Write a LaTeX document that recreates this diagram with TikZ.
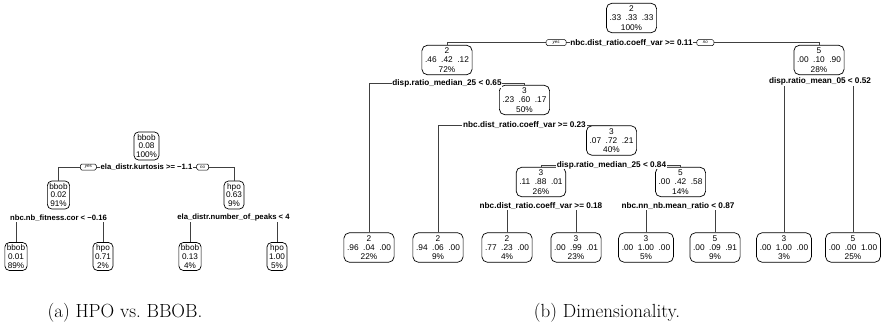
\documentclass[tikz,border=0pt]{standalone}
\usepackage{fontspec}
\newfontfamily\treesans{Liberation Sans}
\newcommand{\lnodefont}{\treesans\fontsize{8.2}{8.7}\selectfont}
\newcommand{\lsplitfont}{\treesans\bfseries\fontsize{7.7}{8}\selectfont}
\newcommand{\rnodefont}{\treesans\fontsize{8.3}{9.2}\selectfont}
\newcommand{\rsplitfont}{\treesans\bfseries\fontsize{8.2}{9}\selectfont}
\newcommand{\ynfont}{\treesans\itshape\fontsize{4.5}{5}\selectfont}
\newcommand{\probsep}{\hspace{4.6pt}}
\begin{document}
\begin{tikzpicture}[x=1pt,y=-1pt,
  lnode/.style={draw=black, line width=0.7pt, rounded corners=4.5pt, fill=white,
    align=center, font=\lnodefont, inner xsep=2pt, inner ysep=1pt, minimum height=28pt},
  rnode/.style={draw=black, line width=0.7pt, rounded corners=5.5pt, fill=white,
    align=center, font=\rnodefont, inner xsep=3.2pt, inner ysep=1pt, minimum height=29.5pt},
  lsplit/.style={fill=white, font=\lsplitfont, inner xsep=0.8pt, inner ysep=0.6pt},
  rsplit/.style={fill=white, font=\rsplitfont, inner xsep=0.8pt, inner ysep=0.6pt},
  branch/.style={draw=black!75, line width=0.8pt},
  ynbox/.style={draw=black, line width=0.5pt, fill=white, rounded corners=1.5pt,
    font=\ynfont, inner sep=0pt, minimum height=6pt},
  caption/.style={font=\fontsize{19}{21}\selectfont}
]
\useasboundingbox (0,0) rectangle (883,329);

% ---------------- left tree: HPO vs. BBOB ----------------
\node[lnode] (L0) at (146.5,146) {bbob\\0.08\\100\%};
\node[lnode] (L1) at (58.5,195) {bbob\\0.02\\91\%};
\node[lnode] (L2) at (234,195) {hpo\\0.63\\9\%};
\node[lnode] (L3) at (16,256.5) {bbob\\0.01\\89\%};
\node[lnode] (L4) at (103,256.5) {hpo\\0.71\\2\%};
\node[lnode] (L5) at (190,256.5) {bbob\\0.13\\4\%};
\node[lnode] (L6) at (277,256.5) {hpo\\1.00\\5\%};

\coordinate (LP0) at (146.5,167);
\coordinate (LP1) at (58.5,218);
\coordinate (LP2) at (233.5,218);

\draw[branch] (L1.north) |- (LP0) -| (L2.north);
\draw[branch] (L3.north) |- (LP1) -| (L4.north);
\draw[branch] (L5.north) |- (LP2) -| (L6.north);

\node[lsplit] (LS0) at (LP0) {ela\_distr.kurtosis >= −1.1};
\node[ynbox, minimum width=16pt, anchor=east] (LY) at ([xshift=-3pt]LS0.west) {yes};
\node[ynbox, minimum width=12pt, anchor=west] (LN) at ([xshift=3pt]LS0.east) {no};
\node[lsplit] (LS1) at (LP1) {nbc.nb\_fitness.cor < −0.16};
\node[lsplit] (LS2) at (LP2) {ela\_distr.number\_of\_peaks < 4};

% ---------------- right tree: dimensionality ----------------
\node[rnode] (R0) at (631.5,18) {2\\.33\probsep.33\probsep.33\\100\%};
\node[rnode] (R1) at (447,60) {2\\.46\probsep.42\probsep.12\\72\%};
\node[rnode] (R2) at (819,60) {5\\.00\probsep.10\probsep.90\\28\%};
\node[rnode] (R3) at (524.5,100) {3\\.23\probsep.60\probsep.17\\50\%};
\node[rnode] (R4) at (611.5,140.5) {3\\.07\probsep.72\probsep.21\\40\%};
\node[rnode] (R5) at (541,182) {3\\.11\probsep.88\probsep.01\\26\%};
\node[rnode] (R6) at (680.5,182) {5\\.00\probsep.42\probsep.58\\14\%};

\node[rnode] (RL1) at (369,247.5) {2\\.96\probsep.04\probsep.00\\22\%};
\node[rnode] (RL2) at (438,247.5) {2\\.94\probsep.06\probsep.00\\9\%};
\node[rnode] (RL3) at (507,247.5) {2\\.77\probsep.23\probsep.00\\4\%};
\node[rnode] (RL4) at (576,247.5) {3\\.00\probsep.99\probsep.01\\23\%};
\node[rnode] (RL5) at (646,247.5) {3\\.00\probsep1.00\probsep.00\\5\%};
\node[rnode] (RL6) at (715,247.5) {5\\.00\probsep.09\probsep.91\\9\%};
\node[rnode] (RL7) at (784,247.5) {3\\.00\probsep1.00\probsep.00\\3\%};
\node[rnode] (RL8) at (853,247.5) {5\\.00\probsep.00\probsep1.00\\25\%};

\coordinate (RP0) at (631.5,42.7);
\coordinate (RP1) at (447,83.5);
\coordinate (RP2) at (820,81.5);
\coordinate (RP3) at (524.5,125);
\coordinate (RP4) at (611.5,165);
\coordinate (RP5) at (541,206);
\coordinate (RP6) at (678,206);

\draw[branch] (R1.north) |- (RP0) -| (R2.north);
\draw[branch] (RL1.north) |- (RP1) -| (R3.north);
\draw[branch] (RL7.north) |- (RP2) -| (RL8.north);
\draw[branch] (RL2.north) |- (RP3) -| (R4.north);
\draw[branch] (R5.north) |- (RP4) -| (R6.north);
\draw[branch] (RL3.north) |- (RP5) -| (RL4.north);
\draw[branch] (RL5.north) |- (RP6) -| (RL6.north);

\node[rsplit] (RS0) at (RP0) {nbc.dist\_ratio.coeff\_var >= 0.11};
\node[ynbox, minimum width=20pt, anchor=east] (RY) at ([xshift=-3pt]RS0.west) {yes};
\node[ynbox, minimum width=17pt, anchor=west] (RN) at ([xshift=3pt]RS0.east) {no};
\node[rsplit] (RS1) at (RP1) {disp.ratio\_median\_25 < 0.65};
\node[rsplit] (RS2) at (RP2) {disp.ratio\_mean\_05 < 0.52};
\node[rsplit] (RS3) at (RP3) {nbc.dist\_ratio.coeff\_var >= 0.23};
\node[rsplit] (RS4) at (RP4) {disp.ratio\_median\_25 < 0.84};
\node[rsplit] (RS5) at (RP5) {nbc.dist\_ratio.coeff\_var >= 0.18};
\node[rsplit] (RS6) at (RP6) {nbc.nn\_nb.mean\_ratio < 0.87};

% ---------------- sub-captions ----------------
\node[caption] (capA) at (125,313) {(a) HPO vs.\ BBOB.};
\node[caption] (capB) at (607,313) {(b) Dimensionality.};
\end{tikzpicture}
\end{document}
